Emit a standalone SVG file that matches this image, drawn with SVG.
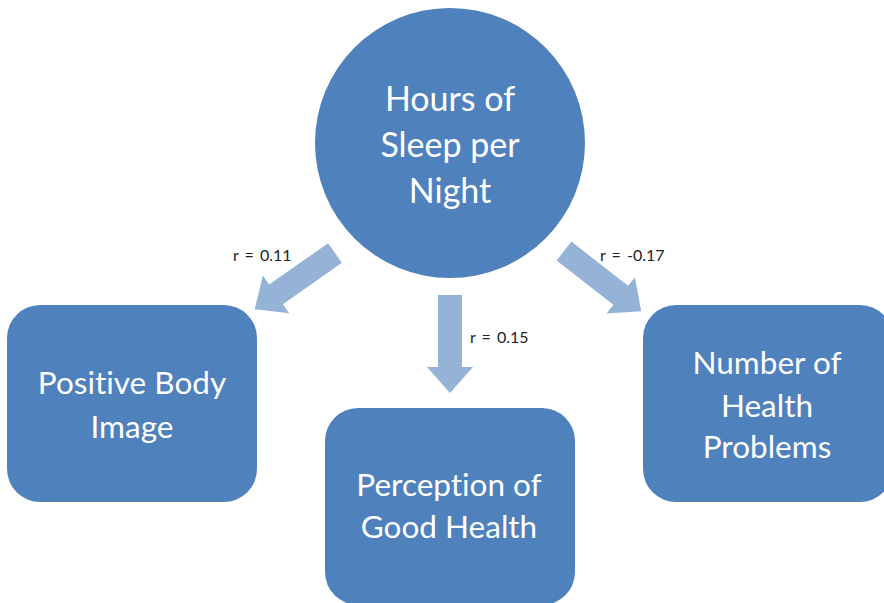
<svg xmlns="http://www.w3.org/2000/svg" width="884" height="603" viewBox="0 0 884 603">
<style>
.node{fill:#4F81BD;}
.nt{fill:#FFFFFF;font-family:Lato,"Liberation Sans",sans-serif;font-size:31.5px;text-anchor:middle;font-variant-ligatures:none;}
.ct{font-size:34px;}
.arrow{fill:#95B3D7;}
.lbl{fill:#222222;font-family:Lato,"Liberation Sans",sans-serif;font-size:16px;word-spacing:2px;}
</style>
<defs>
<path id="arr" d="M-12,0 L12,0 L12,72 L23,72 L0,98 L-23,72 L-12,72 Z"/>
</defs>
<rect width="884" height="603" fill="#FFFFFF"/>
<g id="connectors">
<use href="#arr" class="arrow" transform="translate(335,253) rotate(55)"/>
<use href="#arr" class="arrow" transform="translate(450,295)"/>
<use href="#arr" class="arrow" transform="translate(564,251) rotate(-52)"/>
<text class="lbl" x="233" y="261">r = 0.11</text>
<text class="lbl" x="470" y="343">r = 0.15</text>
<text class="lbl" x="600" y="261">r = -0.17</text>
</g>
<g id="sleep">
<circle class="node" cx="450" cy="143" r="135"/>
<text class="nt ct" x="450" y="111">Hours of</text>
<text class="nt ct" x="450" y="157">Sleep per</text>
<text class="nt ct" x="450" y="203">Night</text>
</g>
<g id="body">
<rect class="node" x="7" y="305" width="250" height="197" rx="33"/>
<text class="nt" x="132" y="394">Positive Body</text>
<text class="nt" x="132" y="438">Image</text>
</g>
<g id="health">
<rect class="node" x="325" y="408" width="250" height="197" rx="33"/>
<text class="nt" x="449" y="496">Perception of</text>
<text class="nt" x="449" y="538">Good Health</text>
</g>
<g id="problems">
<rect class="node" x="643" y="305" width="250" height="197" rx="33"/>
<text class="nt" x="767" y="374">Number of</text>
<text class="nt" x="767" y="417">Health</text>
<text class="nt" x="767" y="458">Problems</text>
</g>
</svg>
